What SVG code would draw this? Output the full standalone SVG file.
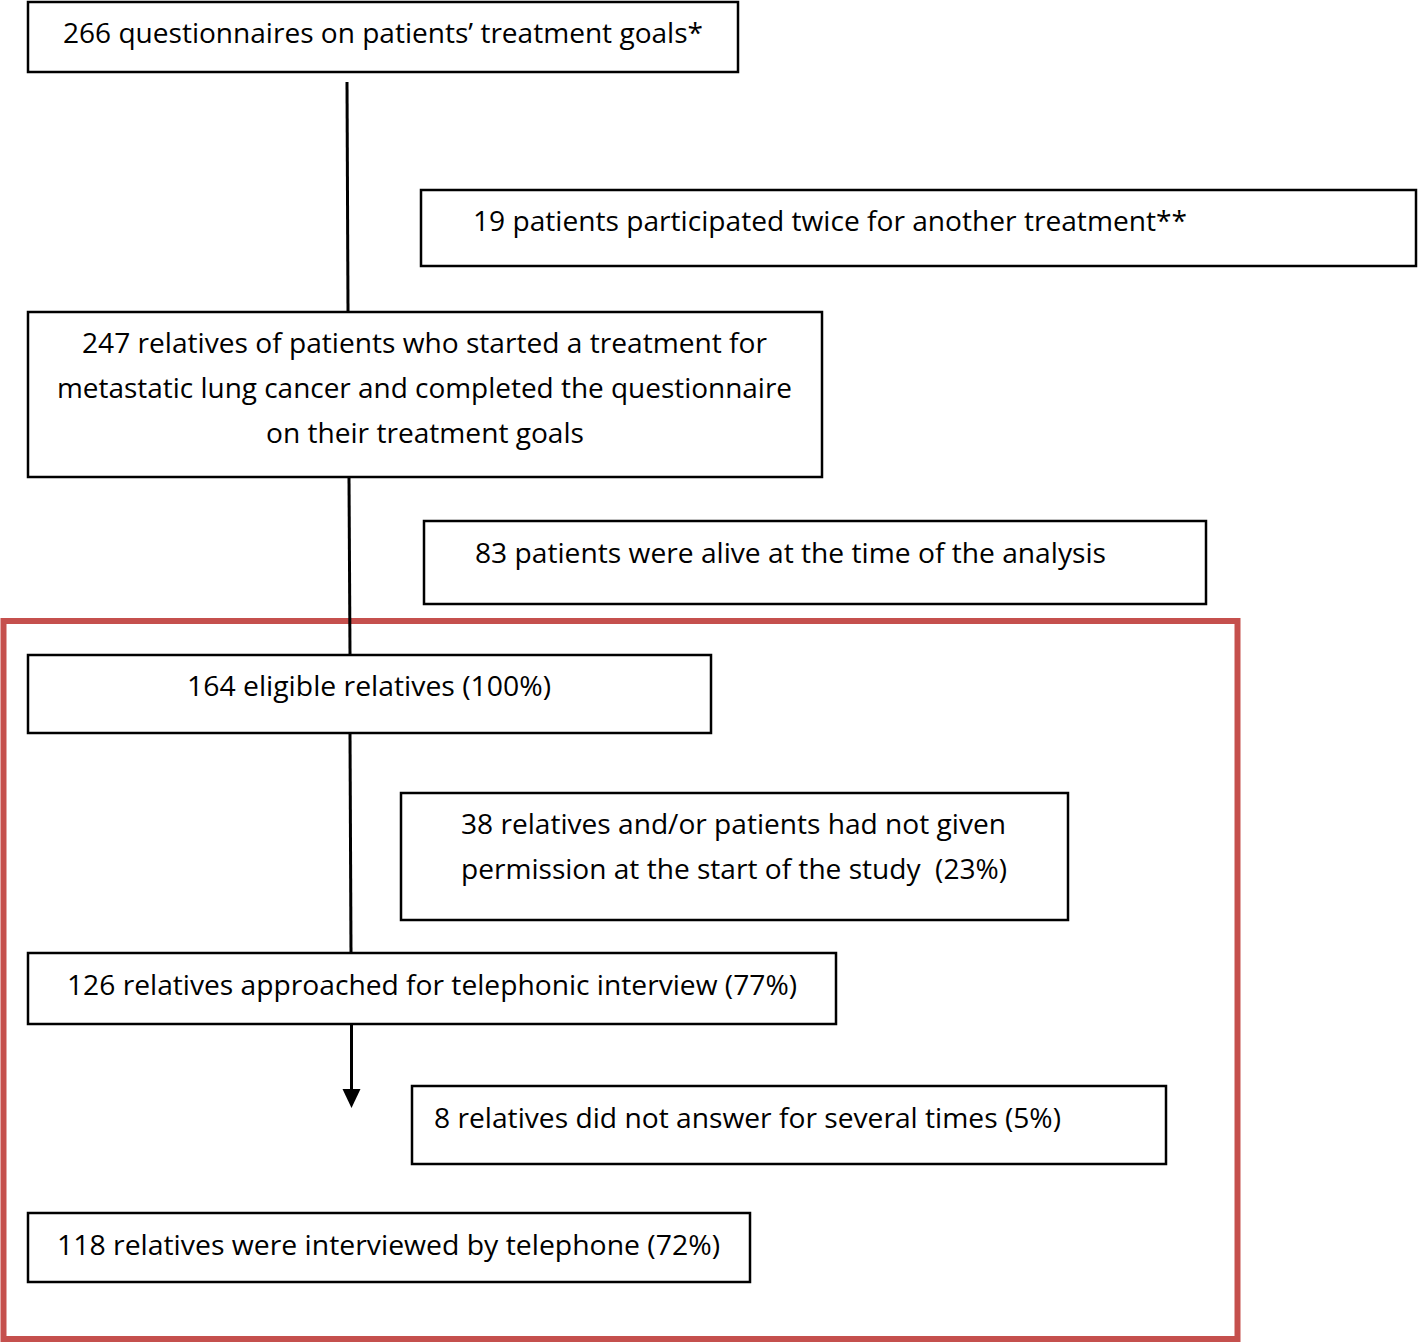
<svg xmlns="http://www.w3.org/2000/svg" width="1418" height="1342" viewBox="0 0 1418 1342">
<style>
.box{fill:#fff;stroke:#000;stroke-width:2.5}
.t{font-family:"Open Sans","Noto Sans","Liberation Sans",sans-serif;font-size:27px;fill:#000}
.c{stroke:#000;stroke-width:3;fill:none}
</style>
<rect width="1418" height="1342" fill="#fff"/>
<rect x="3.5" y="621" width="1234" height="718" fill="none" stroke="#C5504D" stroke-width="6"/>
<g id="connectors">
<line class="c" x1="347" y1="82" x2="348" y2="311"/>
<line class="c" x1="349" y1="477" x2="350" y2="654"/>
<line class="c" x1="350" y1="733" x2="351" y2="952"/>
<line class="c" x1="351.5" y1="1024" x2="351.5" y2="1091"/>
<path d="M342.5,1089 L360.5,1089 L351.5,1108 Z" fill="#000"/>
</g>
<g id="n1"><rect class="box" x="28" y="2" width="710" height="70"/>
<text class="t" x="63" y="43" textLength="640" lengthAdjust="spacingAndGlyphs">266 questionnaires on patients’ treatment goals*</text></g>
<g id="n2"><rect class="box" x="421" y="190" width="995" height="76"/>
<text class="t" x="473" y="231" textLength="714" lengthAdjust="spacingAndGlyphs">19 patients participated twice for another treatment**</text></g>
<g id="n3"><rect class="box" x="28" y="312" width="794" height="165"/>
<text class="t" x="82" y="353" textLength="685" lengthAdjust="spacingAndGlyphs">247 relatives of patients who started a treatment for</text>
<text class="t" x="57" y="398" textLength="735" lengthAdjust="spacingAndGlyphs">metastatic lung cancer and completed the questionnaire</text>
<text class="t" x="266" y="443" textLength="318" lengthAdjust="spacingAndGlyphs">on their treatment goals</text></g>
<g id="n4"><rect class="box" x="424" y="521" width="782" height="83"/>
<text class="t" x="475" y="563" textLength="631" lengthAdjust="spacingAndGlyphs">83 patients were alive at the time of the analysis</text></g>
<g id="n5"><rect class="box" x="28" y="655" width="683" height="78"/>
<text class="t" x="187" y="696" textLength="364" lengthAdjust="spacingAndGlyphs">164 eligible relatives (100%)</text></g>
<g id="n6"><rect class="box" x="401" y="793" width="667" height="127"/>
<text class="t" x="461" y="834" textLength="545" lengthAdjust="spacingAndGlyphs">38 relatives and/or patients had not given</text>
<text class="t" x="461" y="879" textLength="546" lengthAdjust="spacingAndGlyphs">permission at the start of the study&#160; (23%)</text></g>
<g id="n7"><rect class="box" x="28" y="953" width="808" height="71"/>
<text class="t" x="67" y="995" textLength="730" lengthAdjust="spacingAndGlyphs">126 relatives approached for telephonic interview (77%)</text></g>
<g id="n8"><rect class="box" x="412" y="1086" width="754" height="78"/>
<text class="t" x="434" y="1128" textLength="627" lengthAdjust="spacingAndGlyphs">8 relatives did not answer for several times (5%)</text></g>
<g id="n9"><rect class="box" x="28" y="1213" width="722" height="69"/>
<text class="t" x="57" y="1255" textLength="663" lengthAdjust="spacingAndGlyphs">118 relatives were interviewed by telephone (72%)</text></g>
</svg>
